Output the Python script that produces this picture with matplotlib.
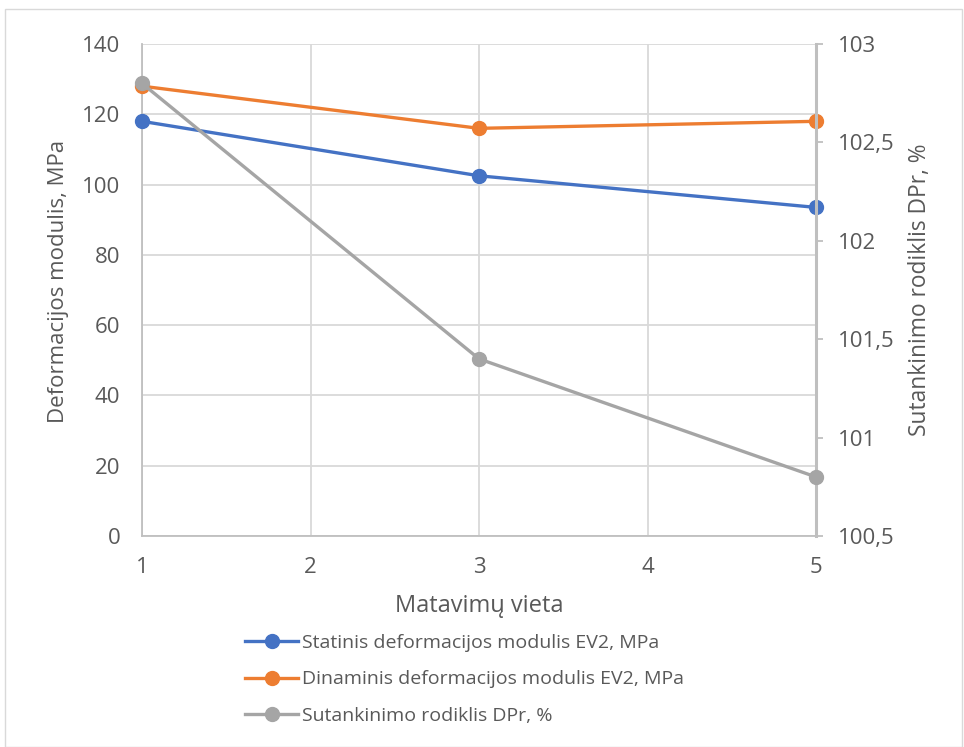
import matplotlib
matplotlib.use("Agg")
import matplotlib.pyplot as plt
from matplotlib.patches import Rectangle
from matplotlib.ticker import FuncFormatter

plt.rcParams['font.family'] = ['Open Sans', 'DejaVu Sans']

# Measurement data
vieta = [1, 3, 5]
statinis_ev2 = [118, 102.5, 93.5]
dinaminis_ev2 = [128, 116, 118]
dpr = [102.8, 101.4, 100.8]

left_ticks = [0, 20, 40, 60, 80, 100, 120, 140]
right_ticks = [100.5, 101, 101.5, 102, 102.5, 103]
x_ticks = [1, 2, 3, 4, 5]

TXT = '#595959'
GRID = '#d9d9d9'
AXIS = '#bfbfbf'
C_BLUE = '#4472C4'
C_ORANGE = '#ED7D31'
C_GRAY = '#A5A5A5'

fig = plt.figure(figsize=(9.64, 7.47), dpi=100)
fig.patches.append(Rectangle((5 / 964, 0), 1 - 7 / 964, 1 - 9 / 747,
                             transform=fig.transFigure, fill=False,
                             edgecolor='#d9d9d9', linewidth=1.0))

ax = fig.add_axes([142 / 964, 1 - 536 / 747, (816 - 142) / 964, (536 - 44) / 747])
ax.set_xlim(1, 5)
ax.set_ylim(0, 140)
ax.set_xticks(x_ticks)
ax.set_yticks(left_ticks)
ax.grid(True, color=GRID, linewidth=1.3)
ax.set_axisbelow(True)
for side in ['top', 'right']:
    ax.spines[side].set_visible(False)
ax.spines['left'].set_color(AXIS)
ax.spines['left'].set_linewidth(1.3)
ax.spines['bottom'].set_color(AXIS)
ax.spines['bottom'].set_linewidth(1.3)
ax.tick_params(axis='both', length=0, labelsize=16, labelcolor=TXT)
ax.tick_params(axis='y', pad=15.5)
ax.tick_params(axis='x', pad=15)

l1, = ax.plot(vieta, statinis_ev2, color=C_BLUE, lw=2.4, marker='o', ms=10,
              label='Statinis deformacijos modulis EV2, MPa', zorder=3,
              clip_on=False)
l2, = ax.plot(vieta, dinaminis_ev2, color=C_ORANGE, lw=2.4, marker='o', ms=10,
              label='Dinaminis deformacijos modulis EV2, MPa', zorder=3,
              clip_on=False)

ax2 = ax.twinx()
ax2.set_ylim(100.5, 103)
ax2.set_yticks(right_ticks)
ax2.yaxis.set_major_formatter(FuncFormatter(lambda v, p: f"{v:g}".replace('.', ',')))
for side in ['top', 'left', 'bottom']:
    ax2.spines[side].set_visible(False)
ax2.spines['right'].set_color(AXIS)
ax2.spines['right'].set_linewidth(2.2)
ax2.tick_params(axis='y', length=5, width=1.3, color=AXIS, labelsize=16,
                labelcolor=TXT, pad=10.7)
l3, = ax2.plot(vieta, dpr, color=C_GRAY, lw=2.4, marker='o', ms=10,
               label='Sutankinimo rodiklis DPr, %', zorder=4, clip_on=False)

ax.set_ylabel('Deformacijos modulis, MPa', fontsize=16, color=TXT)
ax.yaxis.set_label_coords(-0.108, 0.518)
ax2.set_ylabel('Sutankinimo rodiklis DPr, %', fontsize=16.4, color=TXT)
ax2.yaxis.set_label_coords(1.137, 0.50)
ax.set_xlabel('Matavimų vieta', fontsize=17, color=TXT)
ax.xaxis.set_label_coords(0.5, -0.118)

leg = fig.legend(handles=[l1, l2, l3], loc='upper left',
                 bbox_to_anchor=(237 / 964, 1 - 626 / 747), frameon=False,
                 fontsize=14, handlelength=2.75, handletextpad=0.2,
                 labelspacing=0.96, borderaxespad=0)
for t in leg.get_texts():
    t.set_color(TXT)

fig.savefig('out.png', dpi=100)
